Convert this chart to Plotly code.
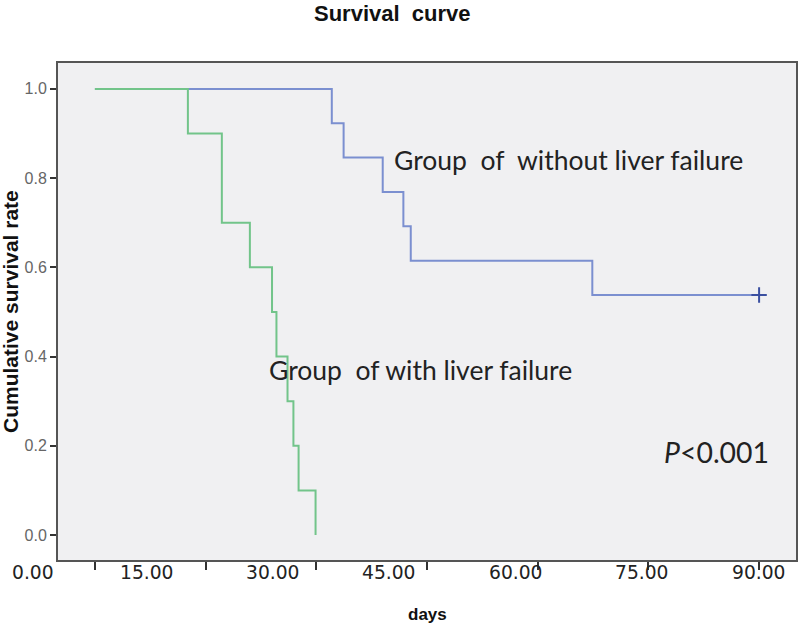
import plotly.graph_objects as go

# ---- data ----
without_days = [0, 32.1, 33.7, 39.0, 41.8, 42.8, 67.4, 90.0]
without_surv = [1.0, 0.923, 0.846, 0.769, 0.692, 0.615, 0.538, 0.538]
censor_days = [90.0]
censor_surv = [0.538]

with_days = [0, 12.6, 17.2, 21.0, 24.0, 24.6, 26.1, 26.9, 27.6, 29.9]
with_surv = [1.0, 0.9, 0.7, 0.6, 0.5, 0.4, 0.3, 0.2, 0.1, 0.0]

x_tick_vals = [0, 15, 30, 45, 60, 75, 90]
x_tick_labels = ["0.00", "15.00", "30.00", "45.00", "60.00", "75.00", "90.00"]
y_tick_vals = [0.0, 0.2, 0.4, 0.6, 0.8, 1.0]
y_tick_labels = ["0.0", "0.2", "0.4", "0.6", "0.8", "1.0"]

# positions (in days) where the x labels are printed in the original figure
x_label_pos = [-8.4, 7.0, 24.1, 39.9, 57.0, 74.2, 90.0]

X_RANGE = [-5, 95]
BLUE = "#7b8fd0"
GREEN = "#72c48a"

fig = go.Figure()
fig.add_trace(go.Scatter(x=without_days, y=without_surv, mode="lines",
                         line=dict(shape="hv", color=BLUE, width=2),
                         hoverinfo="skip", showlegend=False))
fig.add_trace(go.Scatter(x=censor_days, y=censor_surv, mode="markers",
                         marker=dict(symbol="cross-thin", size=11,
                                     line=dict(color="#3a4fa0", width=2)),
                         hoverinfo="skip", showlegend=False))
fig.add_trace(go.Scatter(x=with_days, y=with_surv, mode="lines",
                         line=dict(shape="hv", color=GREEN, width=2),
                         hoverinfo="skip", showlegend=False))

annotations = []
for pos, lab in zip(x_label_pos, x_tick_labels):
    annotations.append(dict(x=(pos - X_RANGE[0]) / (X_RANGE[1] - X_RANGE[0]),
                            y=-0.026, xref="paper", yref="paper",
                            text=lab, showarrow=False, xanchor="center",
                            yanchor="middle",
                            font=dict(family="DejaVu Sans", size=18.7, color="#222")))

annotations += [
    dict(x=40.2, y=0.841, xref="x", yref="y", text="Group&nbsp;&nbsp;of&nbsp;&nbsp;without liver failure",
         showarrow=False, xanchor="left", yanchor="middle",
         font=dict(family="Lato", size=26.5, color="#222")),
    dict(x=23.3, y=0.37, xref="x", yref="y", text="Group&nbsp;&nbsp;of with liver failure",
         showarrow=False, xanchor="left", yanchor="middle",
         font=dict(family="Lato", size=26.5, color="#222")),
    dict(x=76.9, y=0.186, xref="x", yref="y", text="<i>P</i><0.001",
         showarrow=False, xanchor="left", yanchor="middle",
         font=dict(family="Lato", size=28.4, color="#222")),
    dict(x=(392 - 58) / 738, y=(560 - 14) / 497, xref="paper", yref="paper",
         text="<b>Survival&nbsp;&nbsp;curve</b>", showarrow=False,
         xanchor="center", yanchor="middle",
         font=dict(family="Liberation Sans", size=22, color="#111")),
    dict(x=(427 - 58) / 738, y=(560 - 614) / 497, xref="paper", yref="paper",
         text="<b>days</b>", showarrow=False, xanchor="center", yanchor="middle",
         font=dict(family="Liberation Sans", size=17, color="#111")),
    dict(x=(10 - 58) / 738, y=(560 - 312) / 497, xref="paper", yref="paper",
         text="<b>Cumulative survival rate</b>", showarrow=False, textangle=-90,
         xanchor="center", yanchor="middle",
         font=dict(family="Liberation Sans", size=21, color="#111")),
]

fig.update_layout(
    width=800, height=629,
    margin=dict(l=58, r=4, t=63, b=69, autoexpand=False),
    paper_bgcolor="white",
    plot_bgcolor="#f0f0f2",
    annotations=annotations,
    xaxis=dict(range=X_RANGE, tickvals=x_tick_vals, ticktext=x_tick_labels,
               showticklabels=False, ticks="outside", ticklen=8, tickwidth=2,
               tickcolor="#333", showgrid=False, zeroline=False,
               showline=True, linecolor="#555", linewidth=2, mirror=True),
    yaxis=dict(range=[-0.056, 1.058], tickvals=y_tick_vals, ticktext=y_tick_labels,
               ticks="outside", ticklen=6, tickwidth=2, tickcolor="#333",
               tickfont=dict(family="Liberation Sans", size=16, color="#666"),
               showgrid=False, zeroline=False,
               showline=True, linecolor="#555", linewidth=2, mirror=True),
)

fig.write_html("out.html", config={"displayModeBar": False},
               post_script="document.body.style.margin='0';document.body.style.padding='0';")
